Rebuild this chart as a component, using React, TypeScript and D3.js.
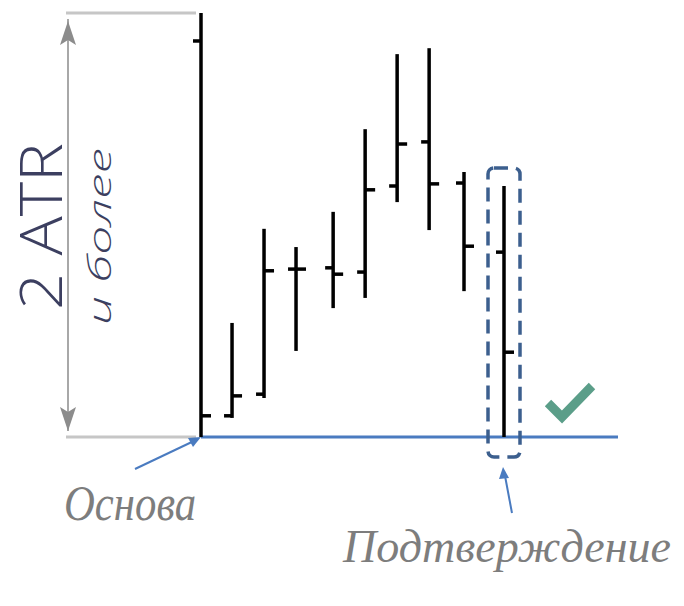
import React from "react";
import * as d3 from "d3";

// Bar times (in bar units) and OHLC values (price units, 0 = base, 100 = 2 ATR)
const barTime = [0, 0.97, 1.97, 2.97, 4.13, 5.13, 6.13, 7.13, 8.22, 9.47];
const opens = [93.4, 5.0, 10.1, 39.6, 39.9, 38.9, 59.2, 69.6, 59.9, 43.6];
const highs = [100, 26.9, 49.1, 44.8, 53.1, 72.6, 90.3, 91.7, 62.5, 59.2];
const lows = [0, 4.5, 9.2, 20.3, 30.4, 32.8, 55.4, 48.8, 34.4, 0];
const closes = [5.0, 9.7, 39.2, 39.6, 38.4, 58.3, 69.1, 59.7, 45.0, 20.0];

const rangeLabel = "2 ATR";
const rangeSubLabel = "и более";
const baseLabel = "Основа";
const confirmLabel = "Подтверждение";

const W = 684;
const H = 606;

export default function App() {
  const x = d3.scaleLinear().domain([0, 9.47]).range([201, 504]);
  const y = d3.scaleLinear().domain([0, 100]).range([437, 13]);

  const bars = barTime.map((t, i) => ({
    t,
    o: opens[i],
    h: highs[i],
    l: lows[i],
    c: closes[i],
  }));

  const last = bars[bars.length - 1];
  const lx = x(last.t);
  const boxTop = y(last.h) - 18;
  const boxBottom = y(0) + 20;

  const axisX = 68;
  const gray = "#a8a8a8";

  const baseY = y(0);
  const topY = y(100);

  return (
    <svg
      width={W}
      height={H}
      style={{ position: "absolute", left: 0, top: 0, background: "#fff" }}
    >
      {/* range bracket */}
      <line x1={axisX - 2} x2={196} y1={topY} y2={topY} stroke="#c6c6c6" strokeWidth={3} />
      <line x1={axisX - 2} x2={196} y1={baseY} y2={baseY} stroke="#c6c6c6" strokeWidth={3} />
      <line x1={axisX} x2={axisX} y1={topY + 6} y2={baseY - 6} stroke={gray} strokeWidth={2} />
      <path
        d={`M${axisX},${topY + 8} L${axisX + 8},${topY + 32} L${axisX},${topY + 27} L${axisX - 8},${topY + 32} Z`}
        fill="#8c8c8c"
      />
      <path
        d={`M${axisX},${baseY - 6} L${axisX + 8},${baseY - 30} L${axisX},${baseY - 25} L${axisX - 8},${baseY - 30} Z`}
        fill="#8c8c8c"
      />
      <text
        transform={`translate(62,310) rotate(-90)`}
        fontFamily="'Open Sans', 'Liberation Sans', Arial, sans-serif"
        fontWeight={300}
        fontSize={58}
        fill="#3c3f60"
        textLength={167}
        lengthAdjust="spacingAndGlyphs"
      >
        {rangeLabel}
      </text>
      <text
        transform={`translate(111,325) rotate(-90)`}
        fontFamily="'Open Sans', 'Liberation Sans', Arial, sans-serif"
        fontWeight={300}
        fontSize={32}
        fontStyle="italic"
        fill="#3c3f60"
        textLength={177}
        lengthAdjust="spacingAndGlyphs"
      >
        {rangeSubLabel}
      </text>

      {/* base line */}
      <line x1={x(0)} x2={618} y1={baseY} y2={baseY} stroke="#4a7bc0" strokeWidth={3} />

      {/* OHLC bars */}
      {bars.map((b, i) => (
        <g key={i} stroke="#000" strokeWidth={3.5}>
          <line x1={x(b.t)} x2={x(b.t)} y1={y(b.h)} y2={y(b.l)} />
          <line x1={x(b.t) - 8} x2={x(b.t)} y1={y(b.o)} y2={y(b.o)} />
          <line x1={x(b.t)} x2={x(b.t) + 10} y1={y(b.c)} y2={y(b.c)} />
        </g>
      ))}

      {/* confirmation box */}
      <rect
        x={lx - 16}
        y={boxTop}
        width={32}
        height={boxBottom - boxTop}
        rx={6}
        fill="none"
        stroke="#3c5f8e"
        strokeWidth={3.5}
        strokeDasharray="14 8"
      />

      {/* check mark */}
      <polyline
        points="548,403 562,417 592,386"
        fill="none"
        stroke="#5b9e89"
        strokeWidth={9}
      />

      {/* arrows */}
      <line x1={135} y1={469} x2={196} y2={440} stroke="#4a7bc0" strokeWidth={2} />
      <path d="M201,437 L188,438 L193,447 Z" fill="#4a7bc0" />
      <line x1={512} y1={513} x2={505} y2={476} stroke="#4a7bc0" strokeWidth={2} />
      <path d="M503,467 L499,479 L509,478 Z" fill="#4a7bc0" />

      {/* labels */}
      <text
        x={64}
        y={520}
        fontFamily="Liberation Serif, serif"
        fontStyle="italic"
        fontSize={50}
        fill="#7d7d7d"
        textLength={132}
        lengthAdjust="spacingAndGlyphs"
      >
        {baseLabel}
      </text>
      <text
        x={343}
        y={562}
        fontFamily="Liberation Serif, serif"
        fontStyle="italic"
        fontSize={46}
        fill="#7d7d7d"
        textLength={328}
        lengthAdjust="spacingAndGlyphs"
      >
        {confirmLabel}
      </text>
    </svg>
  );
}
